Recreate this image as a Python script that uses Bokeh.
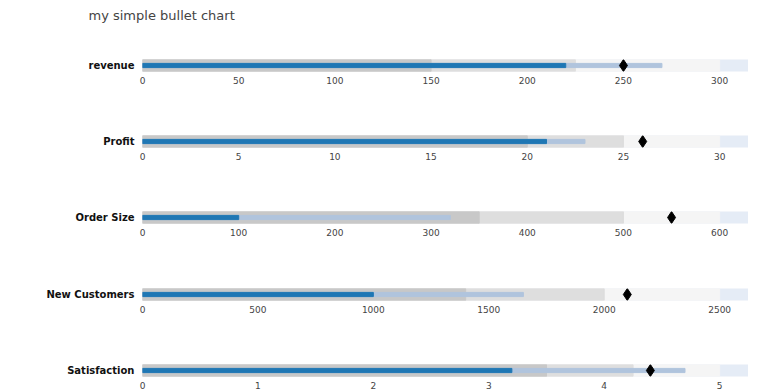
from bokeh.plotting import figure
from bokeh.layouts import column
from bokeh.models import Range1d, FixedTicker
from bokeh.embed import file_html
from bokeh.resources import INLINE

title = "my simple bullet chart"
labels = ["revenue", "Profit", "Order Size", "New Customers", "Satisfaction"]
ranges = [[150, 225, 300], [20, 25, 30], [350, 500, 600], [1400, 2000, 2500], [3.5, 4.25, 5]]
measures = [[220, 270], [21, 23], [100, 320], [1000, 1650], [3.2, 4.7]]
points = [250, 26, 550, 2100, 4.4]
ticks = [
    [0, 50, 100, 150, 200, 250, 300],
    [0, 5, 10, 15, 20, 25, 30],
    [0, 100, 200, 300, 400, 500, 600],
    [0, 500, 1000, 1500, 2000, 2500],
    [0, 1, 2, 3, 4, 5],
]

range_colors = ["rgb(200,200,200)", "rgb(222,222,222)", "rgb(245,245,245)"]
measure_colors = ["rgb(31,119,180)", "rgb(176,196,221)"]

FONT = "DejaVu Sans"
W = 748
LEFT = 142
FH = 12
TITLE_H = 28
tops = [59 - TITLE_H, 30, 30, 30, 30]
bottoms = [34, 34, 35, 34, 16]

# title strip: a thin, blank frame with the chart title above it
tp = figure(width=W, height=TITLE_H, x_range=Range1d(0, 1), y_range=Range1d(0, 1),
            output_backend="svg", toolbar_location=None,
            min_border_left=LEFT, min_border_right=0,
            min_border_top=TITLE_H - 1, min_border_bottom=0)
tp.axis.visible = False
tp.grid.visible = False
tp.outline_line_color = None
tp.background_fill_color = "white"
tp.border_fill_color = "white"
tp.title.text = title
tp.title.text_font = FONT
tp.title.text_font_size = "13px"
tp.title.text_font_style = "normal"
tp.title.text_color = "#444444"
tp.title.offset = -54
tp.title.standoff = 10

figs = [tp]
for i in range(len(labels)):
    xmax = max(ranges[i]) * 1.05
    p = figure(
        width=W, height=tops[i] + FH + bottoms[i],
        x_range=Range1d(0, xmax), y_range=Range1d(-1, 1),
        output_backend="svg", toolbar_location=None,
        min_border_left=LEFT, min_border_right=0,
        min_border_top=tops[i], min_border_bottom=bottoms[i],
    )
    p.background_fill_color = "#E5ECF6"
    p.border_fill_color = "white"
    p.outline_line_color = None
    p.grid.visible = False

    rs = sorted(ranges[i], reverse=True)
    n = len(rs)
    p.hbar(y=[0] * n, left=0, right=rs, height=2,
           color=[range_colors[n - 1 - j] for j in range(n)])
    ms = sorted(measures[i], reverse=True)
    m = len(ms)
    p.hbar(y=[0] * m, left=0, right=ms, height=0.7,
           color=[measure_colors[m - 1 - j] for j in range(m)])
    p.scatter(x=[points[i]], y=[0], marker="diamond", size=12,
              color="black")

    xa = p.xaxis[0]
    xa.ticker = FixedTicker(ticks=ticks[i])
    xa.axis_line_color = None
    xa.major_tick_line_color = None
    xa.minor_tick_line_color = None
    xa.major_tick_out = 0
    xa.major_tick_in = 0
    xa.major_label_standoff = 5
    xa.major_label_text_font = FONT
    xa.major_label_text_font_size = "9px"
    xa.major_label_text_color = "#444444"

    ya = p.yaxis[0]
    ya.ticker = FixedTicker(ticks=[0])
    ya.major_label_overrides = {0: labels[i]}
    ya.axis_line_color = None
    ya.major_tick_line_color = None
    ya.minor_tick_line_color = None
    ya.major_tick_out = 0
    ya.major_tick_in = 0
    ya.major_label_standoff = 8
    ya.major_label_text_font = FONT
    ya.major_label_text_font_size = "10px"
    ya.major_label_text_font_style = "bold"
    ya.major_label_text_color = "#111111"
    figs.append(p)

layout = column(*figs, spacing=0)
open("out.html", "w").write(file_html(layout, INLINE))
